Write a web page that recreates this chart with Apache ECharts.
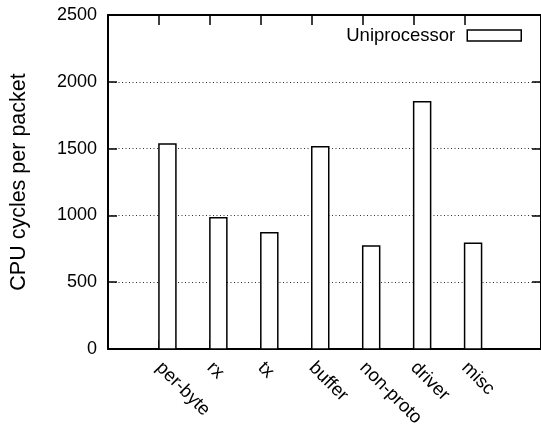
<!DOCTYPE html>
<html>
<head>
<meta charset="utf-8">
<script src="https://cdn.jsdelivr.net/npm/echarts@6/dist/echarts.min.js"></script>
<style>
html,body{margin:0;padding:0;background:#fff;}
#c{width:541px;height:434px;}
</style>
</head>
<body>
<div id="c"></div>
<script>
const categories = ['per-byte', 'rx', 'tx', 'buffer', 'non-proto', 'driver', 'misc'];
const uniprocessor = [1535, 983, 870, 1513, 771, 1851, 791];
const yTicks = [0, 500, 1000, 1500, 2000, 2500];
const seriesName = 'Uniprocessor';
const yTitle = 'CPU cycles per packet';

const FONT = '"Liberation Sans", Arial, Helvetica, sans-serif';
const barSpan = 1 / 3;
const idx = categories.map((_, i) => i);

const chart = echarts.init(document.getElementById('c'), null, {renderer: 'canvas'});
chart.setOption({
  animation: false,
  backgroundColor: '#fff',
  grid: {left: 105, right: -3, top: 15, bottom: 85, containLabel: false},
  legend: {
    data: [{name: seriesName, icon: 'rect', itemStyle: {color: '#fff', borderColor: '#000', borderWidth: 1.5}}],
    right: 19, top: 26, padding: 0,
    align: 'right',
    itemWidth: 54, itemHeight: 11,
    textStyle: {fontFamily: FONT, fontSize: 18.5, color: '#000', padding: [0, 7, 0, 0]},
    selectedMode: false
  },
  xAxis: [{
    type: 'value', position: 'bottom', min: -1, max: 7.5, interval: 1,
    axisLine: {show: true, onZero: false, lineStyle: {color: '#000', width: 2}},
    axisTick: {show: true, inside: true, length: 9, customValues: idx, lineStyle: {color: '#000', width: 1.5}},
    axisLabel: {
      show: true, customValues: idx, rotate: -45, margin: 16,
      fontFamily: FONT, fontSize: 18.5, color: '#000',
      formatter: v => categories[Math.round(v)] || ''
    },
    splitLine: {show: false}
  }, {
    type: 'value', position: 'top', min: -1, max: 7.5, interval: 1,
    axisLine: {show: true, onZero: false, lineStyle: {color: '#000', width: 2}},
    axisTick: {show: true, inside: true, length: 10, customValues: idx, lineStyle: {color: '#000', width: 1.5}},
    axisLabel: {show: false},
    splitLine: {show: false}
  }],
  yAxis: [{
    type: 'value', position: 'left', min: 0, max: 2500, interval: 500,
    name: yTitle, nameLocation: 'middle', nameGap: 78,
    nameTextStyle: {fontFamily: FONT, fontSize: 21.5, color: '#000'},
    axisLine: {show: true, onZero: false, lineStyle: {color: '#000', width: 2}},
    axisTick: {show: true, inside: true, length: 9, lineStyle: {color: '#000', width: 1.5}},
    axisLabel: {
      show: true, margin: 11, fontFamily: FONT, fontSize: 18, color: '#000',
      customValues: yTicks, formatter: v => String(v)
    },
    splitLine: {show: true, lineStyle: {color: '#333', width: 1, type: [1, 2.5]}}
  }, {
    type: 'value', position: 'right', min: 0, max: 2500, interval: 500,
    axisLine: {show: true, onZero: false, lineStyle: {color: '#000', width: 2}},
    axisTick: {show: true, inside: true, length: 9, lineStyle: {color: '#000', width: 1.5}},
    axisLabel: {show: false},
    splitLine: {show: false}
  }],
  series: [{
    name: seriesName,
    type: 'custom',
    xAxisIndex: 0, yAxisIndex: 0,
    itemStyle: {color: '#fff', borderColor: '#000', borderWidth: 1.5},
    data: uniprocessor.map((v, i) => [i, v]),
    renderItem: function (params, api) {
      const x0 = api.value(0), v = api.value(1);
      const p0 = api.coord([x0, v]);
      const p1 = api.coord([x0 + barSpan, 0]);
      return {
        type: 'rect',
        shape: {x: p0[0], y: p0[1], width: p1[0] - p0[0], height: p1[1] - p0[1]},
        style: {fill: '#fff', stroke: '#000', lineWidth: 1.5}
      };
    },
    z: 3
  }]
});
</script>
</body>
</html>
